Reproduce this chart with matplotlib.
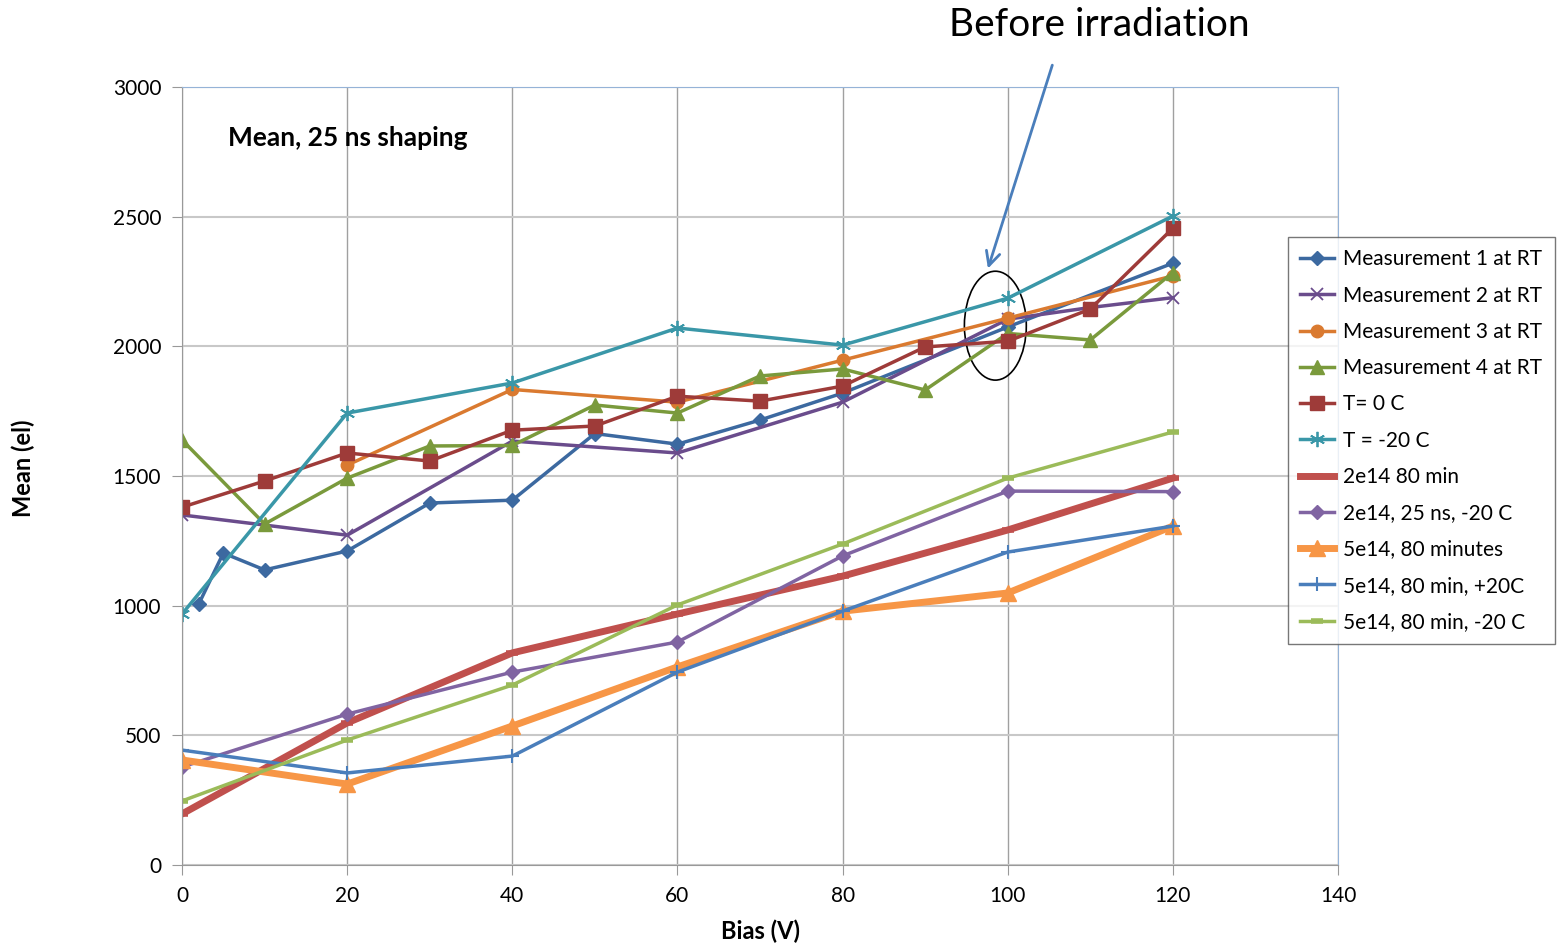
import matplotlib.pyplot as plt
from matplotlib.patches import Ellipse

plt.rcParams['font.family'] = ['Lato', 'DejaVu Sans']

# data
m1_x = [2, 5, 10, 20, 30, 40, 50, 60, 70, 80, 100, 120]
m1_y = [1005, 1203, 1138, 1211, 1396, 1407, 1664, 1623, 1716, 1820, 2075, 2321]
m2_x = [0, 20, 40, 60, 80, 100, 110, 120]
m2_y = [1350, 1272, 1635, 1589, 1785, 2105, 2150, 2188]
m3_x = [20, 40, 60, 80, 100, 120]
m3_y = [1542, 1834, 1785, 1947, 2109, 2272]
m4_x = [0, 10, 20, 30, 40, 50, 60, 70, 80, 90, 100, 110, 120]
m4_y = [1639, 1315, 1492, 1616, 1618, 1774, 1743, 1886, 1913, 1832, 2050, 2025, 2285]
t0_x = [0, 10, 20, 30, 40, 50, 60, 70, 80, 90, 100, 110, 120]
t0_y = [1380, 1481, 1589, 1558, 1677, 1693, 1808, 1789, 1847, 1998, 2020, 2144, 2456]
tm20_x = [0, 20, 40, 60, 80, 100, 120]
tm20_y = [968, 1743, 1859, 2071, 2005, 2186, 2503]

irr_x = [0, 20, 40, 60, 80, 100, 120]
e2_80 = [197, 548, 818, 968, 1114, 1292, 1492]
e2_25ns = [378, 582, 744, 860, 1192, 1442, 1440]
e5_80 = [405, 312, 536, 764, 979, 1049, 1307]
e5_p20 = [443, 355, 420, 744, 979, 1207, 1307]
e5_m20 = [247, 482, 694, 1003, 1238, 1492, 1670]

fig = plt.figure(figsize=(15.6, 9.44), dpi=100)
ax = fig.add_axes([0.1167, 0.0837, 0.741, 0.824])

ax.plot(m1_x, m1_y, color='#3C69A0', lw=2.5, marker='D', ms=7, label='Measurement 1 at RT')
ax.plot(m2_x, m2_y, color='#6A4C8C', lw=2.5, marker='x', ms=9, mew=1.3, label='Measurement 2 at RT')
ax.plot(m3_x, m3_y, color='#DA7A30', lw=2.5, marker='o', ms=9, label='Measurement 3 at RT')
ax.plot(m4_x, m4_y, color='#7A9A3C', lw=2.5, marker='^', ms=10, label='Measurement 4 at RT')
ax.plot(t0_x, t0_y, color='#9E3B39', lw=2.5, marker='s', ms=10, label='T= 0 C')
ax.plot(tm20_x, tm20_y, color='#3A97A8', lw=2.5, marker=(6, 2, 0), ms=11, mew=1.3, label='T = -20 C')
ax.plot(irr_x, e2_80, color='#C0504D', lw=5, marker='_', ms=8, mew=4, label='2e14 80 min')
ax.plot(irr_x, e2_25ns, color='#8064A2', lw=2.5, marker='D', ms=7, label='2e14, 25 ns, -20 C')
ax.plot(irr_x, e5_80, color='#F79646', lw=5, marker='^', ms=12, label='5e14, 80 minutes')
ax.plot(irr_x, e5_p20, color='#4A7EBB', lw=2.5, marker='+', ms=10, mew=1.5, label='5e14, 80 min, +20C')
ax.plot(irr_x, e5_m20, color='#9BBB59', lw=2.5, marker='_', ms=8, mew=4, label='5e14, 80 min, -20 C')

ax.set_xlim(0, 140)
ax.set_ylim(0, 3000)
ax.set_xticks(range(0, 141, 20))
ax.set_yticks(range(0, 3001, 500))
ax.grid(axis='x', color='#A0A0A0', lw=1)
ax.grid(axis='y', color='#C8C8C8', lw=1.5)
ax.set_axisbelow(True)
for s in ['left', 'bottom']:
    ax.spines[s].set_color('#999999')
for s in ['top', 'right']:
    ax.spines[s].set_color('#95B3D7')
ax.tick_params(direction='out', length=7, color='#999999', labelsize=15, pad=8)
ax.set_xlabel('Bias (V)', fontsize=17, fontweight='bold', labelpad=10)
ax.set_ylabel('Mean (el)', fontsize=17, fontweight='bold')
ax.yaxis.set_label_coords(-0.127, 0.51)

ax.text(0.04, 0.935, 'Mean, 25 ns shaping', transform=ax.transAxes, fontsize=19,
        fontweight='bold', va='center')

leg = fig.legend(loc='upper left', bbox_to_anchor=(0.8256, 0.749), borderaxespad=0,
                 fontsize=15, frameon=True, fancybox=False, edgecolor='#555555',
                 handlelength=1.6, labelspacing=0.78, borderpad=0.6, handletextpad=0.45)
leg.get_frame().set_linewidth(1)

# annotation: ellipse, arrow and caption
ax.add_patch(Ellipse((98.5, 2080), 7.5, 420, fill=False, ec='black', lw=1.2, clip_on=False))
ax.annotate('', xy=(97.5, 2290), xytext=(105.5, 3095), annotation_clip=False,
            arrowprops=dict(arrowstyle='->', color='#4A7EBB', lw=2, mutation_scale=25))
fig.text(0.705, 0.973, 'Before irradiation', fontsize=28, ha='center', va='center')

fig.savefig('out.png', dpi=100)
